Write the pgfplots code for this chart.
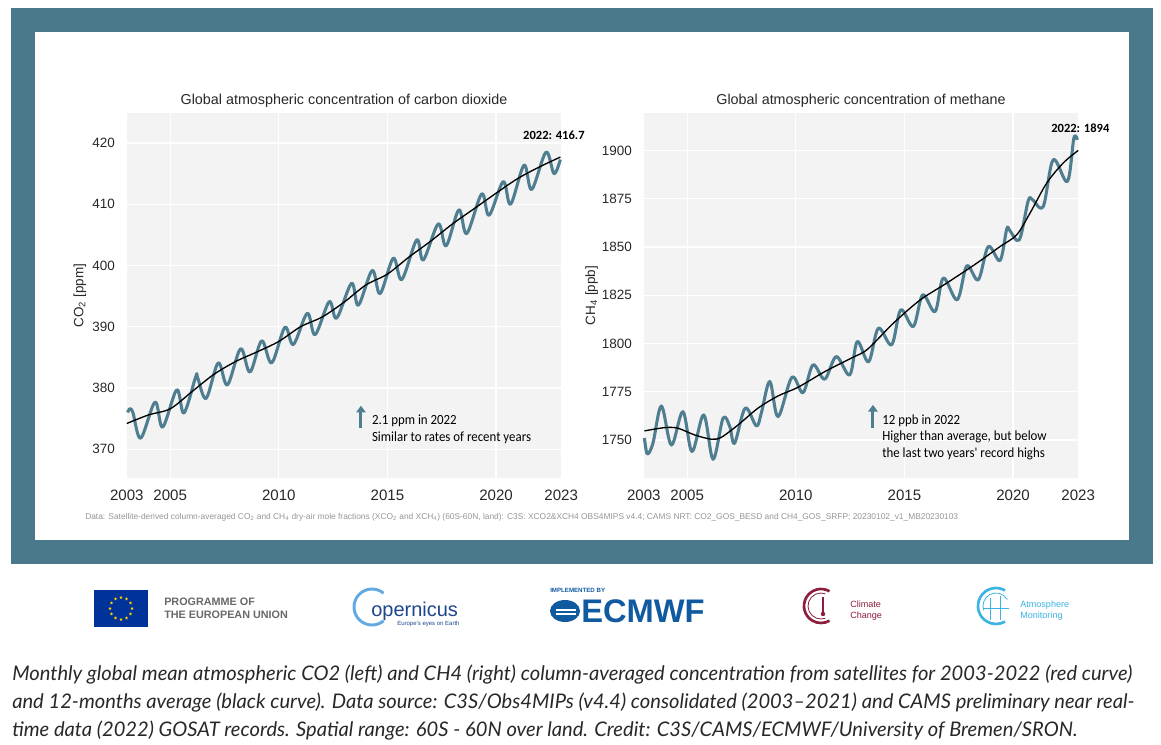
\documentclass[border=0pt]{standalone}
\usepackage{fontspec}
\setmainfont{Liberation Sans}
\newfontfamily\lato{Lato}
\newfontfamily\carl{Carlito}
\newfontfamily\cond[FakeStretch=0.92]{Carlito}
\usepackage{pgfplots}
\pgfplotsset{compat=1.18}
\usetikzlibrary{arrows.meta,shapes.geometric}

\definecolor{frame}{RGB}{75,121,140}
\definecolor{curve}{RGB}{80,126,145}
\definecolor{bggray}{RGB}{243,243,243}
\definecolor{txt}{RGB}{40,40,40}
\definecolor{eublue}{RGB}{0,51,153}
\definecolor{euyel}{RGB}{255,204,0}
\definecolor{ecblue}{RGB}{16,90,160}
\definecolor{copblue}{RGB}{30,70,140}
\definecolor{coplight}{RGB}{100,170,225}
\definecolor{maroon}{RGB}{140,30,60}
\definecolor{atmblue}{RGB}{60,180,225}

\pgfplotsset{
  panel/.style={
    scale only axis, width=325.8pt, height=273.75pt, anchor=south west,
    xmin=2003, xmax=2023,
    xtick={2003,2005,2010,2015,2020,2023},
    xticklabels={2003,2005,2010,2015,2020,2023},
    grid=major, grid style={white, line width=0.9pt},
    axis background/.style={fill=bggray},
    axis line style={draw=none}, major tick style={draw=none},
    tick label style={text=txt},
    /pgf/number format/assume math mode=true,
    /pgf/number format/1000 sep={},
    xticklabel style={font=\fontsize{11.3}{12}\selectfont, yshift=-5.3pt},
    yticklabel style={font=\fontsize{10.1}{11}\selectfont, xshift=-5.5pt},
    ylabel style={font=\fontsize{10.1}{11}\selectfont, text=txt, anchor=center},
    clip=false,
  },
  series/.style={curve, line width=2.3pt, smooth, tension=0.55, line join=round},
  avg/.style={black, line width=1pt, smooth},
}
\tikzset{
  note/.style={font=\cond\fontsize{10.5}{12}\selectfont, anchor=base west, inner sep=0pt},
  arr/.style={curve, line width=2.2pt, -{Triangle[width=7pt,length=5pt]}},
}

\begin{document}
\begin{tikzpicture}
\begin{scope}[x=0.75pt,y=-0.75pt]
  \fill[white] (0,0) rectangle (1161,745);
  \useasboundingbox (0,0) rectangle (1161,745);
  \fill[frame] (10.5,8) rectangle (1153,564);
  \fill[white] (35,32) rectangle (1129,540);
  \coordinate (A1) at (126.8,478);
  \coordinate (A2) at (643.8,478);
  \node[anchor=base, font=\fontsize{10.75}{12}\selectfont, text=txt] at (344,105)
    {Global atmospheric concentration of carbon dioxide};
  \node[anchor=base, font=\fontsize{10.75}{12}\selectfont, text=txt] at (861,105)
    {Global atmospheric concentration of methane};
\end{scope}

% carbon dioxide
\begin{axis}[panel, at={(A1)},
  ymin=365.3, ymax=424.9, ytick={370,380,...,420},
  ylabel={CO\textsubscript{2} [ppm]},
  ylabel style={at={(axis description cs:-0.108,0.5)}},
]
\addplot[series] coordinates {
  (2003.04,376.0) (2003.13,376.6) (2003.28,376.0) (2003.64,371.8)
  (2004.30,377.7) (2004.65,373.6) (2005.30,379.7) (2005.63,375.9)
  (2006.18,381.9) (2006.26,381.7) (2006.65,378.3) (2007.21,384.1)
  (2007.63,380.5) (2008.24,386.4) (2008.67,382.6) (2009.21,387.7)
  (2009.67,384.1) (2010.28,389.9) (2010.67,387.1) (2011.31,392.2)
  (2011.67,388.7) (2012.32,394.1) (2012.66,391.4) (2013.35,397.1)
  (2013.66,393.5) (2014.30,399.2) (2014.66,395.4) (2015.27,401.2)
  (2015.66,397.7) (2016.35,404.2) (2016.65,400.9) (2017.34,406.8)
  (2017.70,403.2) (2018.29,409.1) (2018.65,405.2) (2019.34,411.7)
  (2019.68,408.2) (2020.33,413.7) (2020.67,410.0) (2021.29,416.4)
  (2021.64,412.4) (2022.30,418.5) (2022.67,415.0) (2022.96,417.3)
};
\addplot[avg] coordinates {
  (2003.0,374.2) (2004.0,375.6) (2005.0,376.6) (2006.0,379.4)
  (2007.0,382.2) (2008.0,384.3) (2009.0,385.9) (2010.0,387.6)
  (2011.0,390.0) (2012.0,391.6) (2013.0,394.0) (2014.0,396.8)
  (2015.0,398.6) (2016.0,401.4) (2017.0,404.0) (2018.0,406.8)
  (2019.0,409.3) (2020.0,411.8) (2021.0,414.2) (2022.0,416.1)
  (2022.96,417.7)
};
\draw[arr] (axis cs:2013.78,373.4) -- (axis cs:2013.78,377.1);
\node[note] at (axis cs:2014.28,374.0) {2.1 ppm in 2022};
\node[note] at (axis cs:2014.28,371.2) {Similar to rates of recent years};
\node[note, font=\carl\bfseries\fontsize{9.4}{11}\selectfont] at (axis cs:2021.24,420.5) {2022: 416.7};
\end{axis}

% methane
\begin{axis}[panel, at={(A2)},
  ymin=1730.3, ymax=1919.4, ytick={1750,1775,...,1900},
  ylabel={CH\textsubscript{4} [ppb]},
  ylabel style={at={(axis description cs:-0.12,0.5)}},
]
\addplot[series] coordinates {
  (2003.03,1751.0) (2003.16,1742.8) (2003.42,1748.3) (2003.81,1767.6)
  (2004.27,1747.4) (2004.80,1764.7) (2005.22,1744.0) (2005.76,1763.0)
  (2006.19,1740.0) (2006.65,1761.3) (2006.96,1756.9) (2007.18,1748.3)
  (2007.67,1766.5) (2008.18,1757.3) (2008.41,1763.9) (2008.80,1780.3)
  (2009.18,1762.1) (2009.82,1782.5) (2010.33,1774.5) (2010.79,1788.9)
  (2011.33,1781.5) (2011.86,1793.2) (2012.48,1783.7) (2012.83,1801.0)
  (2013.35,1790.5) (2013.80,1807.9) (2014.41,1799.3) (2014.83,1817.4)
  (2015.41,1808.8) (2015.84,1825.2) (2016.41,1816.5) (2016.79,1833.9)
  (2017.43,1822.6) (2017.87,1840.2) (2018.40,1833.0) (2018.86,1850.2)
  (2019.40,1843.0) (2019.71,1859.3) (2019.85,1858.5) (2020.29,1853.7)
  (2020.70,1874.0) (2020.90,1874.4) (2021.39,1871.0) (2021.85,1895.2)
  (2022.50,1883.9) (2022.80,1906.4) (2022.96,1905.5)
};
\addplot[avg] coordinates {
  (2003.03,1754.7) (2003.96,1756.4) (2004.57,1756.1) (2005.34,1752.6)
  (2006.11,1750.4) (2006.57,1751.4) (2007.34,1757.8) (2008.26,1766.5)
  (2009.18,1772.8) (2010.10,1777.3) (2011.33,1785.4) (2012.55,1792.4)
  (2013.30,1797.0) (2014.49,1810.5) (2015.72,1822.5) (2016.95,1831.3)
  (2018.33,1841.6) (2019.40,1850.2) (2020.17,1856.3) (2020.78,1867.5)
  (2021.55,1883.1) (2022.31,1893.5) (2023.00,1900.0)
};
\draw[arr] (axis cs:2013.55,1756.2) -- (axis cs:2013.55,1768.2);
\node[note] at (axis cs:2013.97,1758.1) {12 ppb in 2022};
\node[note] at (axis cs:2013.97,1749.6) {Higher than average, but below};
\node[note] at (axis cs:2013.97,1741.0) {the last two years' record highs};
\node[note, font=\carl\bfseries\fontsize{9.4}{11}\selectfont] at (axis cs:2021.75,1909.2) {2022: 1894};
\end{axis}

\begin{scope}[x=0.75pt,y=-0.75pt]
  \node[anchor=base west, inner sep=0pt, font=\fontsize{6.29}{7}\selectfont, text={rgb,255:red,150;green,150;blue,150}] at (85,519)
    {Data: Satellite-derived column-averaged CO\textsubscript{2} and CH\textsubscript{4} dry-air mole fractions (XCO\textsubscript{2} and XCH\textsubscript{4}) (60S-60N, land): C3S: XCO2\&XCH4 OBS4MIPS v4.4; CAMS NRT: CO2\_GOS\_BESD and CH4\_GOS\_SRFP; 20230102\_v1\_MB20230103};
  % logos
  \fill[eublue] (94,590) rectangle (148,627);
  \foreach \a in {0,30,...,330}
    \node[star, star points=5, star point ratio=2.3, fill=euyel, inner sep=0pt, minimum size=2.6pt] at ([shift={(\a:11)}]121,608.5) {};
  \node[anchor=base west, inner sep=0pt, font=\bfseries\fontsize{8.1}{9}\selectfont, text={rgb,255:red,105;green,105;blue,105}] at (164,605) {PROGRAMME OF};
  \node[anchor=base west, inner sep=0pt, font=\bfseries\fontsize{8.1}{9}\selectfont, text={rgb,255:red,105;green,105;blue,105}] at (164,618) {THE EUROPEAN UNION};
  \draw[coplight, line width=2.2pt] (372,607) ++(-50:18) arc[start angle=-50, end angle=-310, radius=18];
  \node[anchor=base west, inner sep=0pt, font=\fontsize{15}{16}\selectfont, text=copblue] at (371,616) {opernicus};
  \node[anchor=base west, inner sep=0pt, font=\fontsize{4.5}{5}\selectfont, text=copblue] at (397,625) {Europe's eyes on Earth};
  \node[anchor=base west, inner sep=0pt, font=\bfseries\fontsize{4.6}{5}\selectfont, text=ecblue] at (550,592) {IMPLEMENTED BY};
  \fill[ecblue] (565,611) ellipse (15 and 11);
  \fill[white] (556,609) rectangle (576,610.6);
  \fill[white] (556,613) rectangle (576,614.6);
  \node[anchor=base west, inner sep=0pt, font=\bfseries\fontsize{24.5}{26}\selectfont, text=ecblue] at (581,622) {ECMWF};
  \draw[maroon, line width=2pt] (821,606) ++(-60:17) arc[start angle=-60, end angle=-300, radius=17];
  \draw[maroon, line width=0.6pt] (821,606) ++(-70:13) arc[start angle=-70, end angle=-290, radius=13];
  \draw[maroon, line width=0.8pt] (823,597) -- (823,612);
  \fill[maroon] (823,614) circle (2.2);
  \node[anchor=base west, inner sep=0pt, font=\fontsize{6.8}{8}\selectfont, text=maroon] at (850,607) {Climate};
  \node[anchor=base west, inner sep=0pt, font=\fontsize{6.8}{8}\selectfont, text=maroon] at (850,618) {Change};
  \draw[atmblue, line width=2pt] (996,606) ++(-60:18) arc[start angle=-60, end angle=-300, radius=18];
  \draw[atmblue, line width=0.6pt] (996,606) ++(-30:13) arc[start angle=-30, end angle=-200, radius=13];
  \draw[atmblue, line width=0.6pt] (984,608) -- (1009,608) (990,598) -- (990,620) (1000,596) -- (1000,620);
  \node[anchor=base west, inner sep=0pt, font=\fontsize{6.8}{8}\selectfont, text=atmblue] at (1020,607) {Atmosphere};
  \node[anchor=base west, inner sep=0pt, font=\fontsize{6.8}{8}\selectfont, text=atmblue] at (1020,618) {Monitoring};
  % caption
  \node[anchor=base west, inner sep=0pt, font=\lato\itshape\fontsize{15.1}{17}\selectfont, text=txt] at (12,680.5)
    {Monthly global mean atmospheric CO2 (left) and CH4 (right) column-averaged concentration from satellites for 2003-2022 (red curve)};
  \node[anchor=base west, inner sep=0pt, font=\lato\itshape\fontsize{15.1}{17}\selectfont, text=txt] at (12,708.5)
    {and 12-months average (black curve). Data source: C3S/Obs4MIPs (v4.4) consolidated (2003\textendash 2021) and CAMS preliminary near real-};
  \node[anchor=base west, inner sep=0pt, font=\lato\itshape\fontsize{15.1}{17}\selectfont, text=txt] at (12,736.5)
    {time data (2022) GOSAT records. Spatial range: 60S - 60N over land. Credit: C3S/CAMS/ECMWF/University of Bremen/SRON.};
\end{scope}
\end{tikzpicture}
\end{document}
